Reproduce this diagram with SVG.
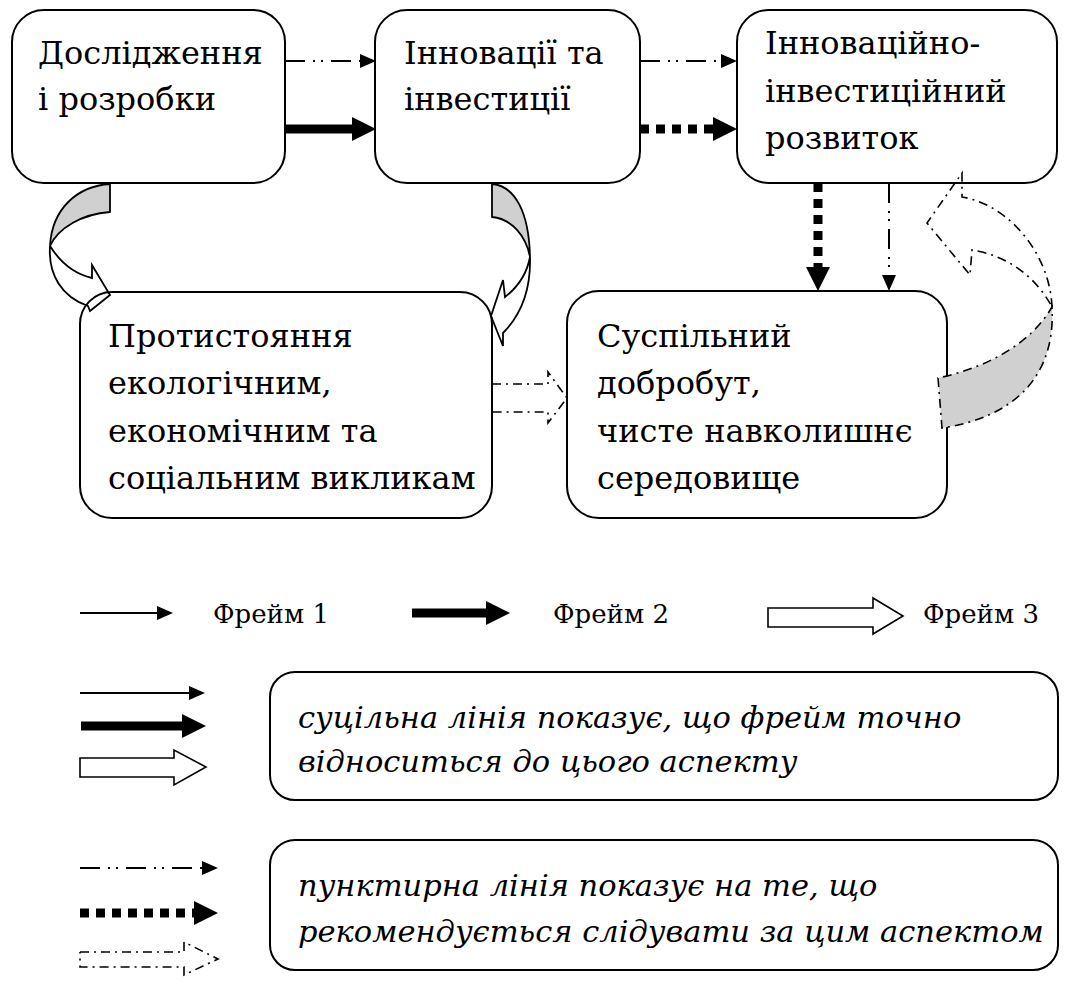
<svg xmlns="http://www.w3.org/2000/svg" width="1067" height="992" viewBox="0 0 1067 992">
<style>
.box{fill:#fff;stroke:#000;stroke-width:2}
text{fill:#000;font-family:"DejaVu Serif",serif}
.t{font-size:32px}
.it{font-size:30.5px;font-style:italic}
.lg{font-size:26px}
.thin{stroke:#000;stroke-width:2;fill:none}
.thick{stroke:#000;stroke-width:9;fill:none}
.ddot{stroke:#000;stroke-width:2;fill:none;stroke-dasharray:20 8 2 6 2 8}
.dots{stroke:#000;stroke-width:9;fill:none;stroke-dasharray:9 7}
.hol{stroke:#000;stroke-width:1.6;fill:#fff}
.holD{stroke:#000;stroke-width:1.6;fill:none;stroke-dasharray:9 5 2 5}
.cur{stroke:#000;stroke-width:1.8;fill:none}
.curG{stroke:#000;stroke-width:1.8;fill:#d0d0d0}
.curD{stroke:#000;stroke-width:1.6;fill:none;stroke-dasharray:9 5 2 5}
.curDG{stroke:#000;stroke-width:1.6;fill:#d0d0d0;stroke-dasharray:9 5 2 5}
</style>
<defs>
<marker id="hThin" markerUnits="userSpaceOnUse" markerWidth="16" markerHeight="14" refX="0" refY="7" orient="auto" overflow="visible"><path d="M0,0 L16,7 L0,14 Z" fill="#000"/></marker>
<marker id="hThick" markerUnits="userSpaceOnUse" markerWidth="24" markerHeight="24" refX="0" refY="12" orient="auto" overflow="visible"><path d="M0,0 L24,12 L0,24 Z" fill="#000"/></marker>
</defs>
<g id="node-research">
<rect class="box" x="12" y="10" width="273" height="173" rx="32"/>
<text class="t" x="38" y="64">Дослідження</text>
<text class="t" x="38" y="110">і розробки</text>
</g>
<g id="node-innovations">
<rect class="box" x="375" y="10" width="265" height="173" rx="32"/>
<text class="t" x="404" y="64">Інновації та</text>
<text class="t" x="404" y="110">інвестиції</text>
</g>
<g id="node-development">
<rect class="box" x="737" y="10" width="320" height="173" rx="32"/>
<text class="t" x="765" y="54">Інноваційно-</text>
<text class="t" x="765" y="102">інвестиційний</text>
<text class="t" x="765" y="149">розвиток</text>
</g>
<g id="node-challenges">
<rect class="box" x="80" y="292" width="412" height="226" rx="32"/>
<text class="t" x="108" y="347">Протистояння</text>
<text class="t" x="108" y="394">екологічним,</text>
<text class="t" x="108" y="442">економічним та</text>
<text class="t" x="108" y="489">соціальним викликам</text>
</g>
<g id="node-welfare">
<rect class="box" x="567" y="291" width="380" height="227" rx="32"/>
<text class="t" x="597" y="347">Суспільний</text>
<text class="t" x="597" y="394">добробут,</text>
<text class="t" x="597" y="442">чисте навколишнє</text>
<text class="t" x="597" y="489">середовище</text>
</g>

<g id="connectors">
<line class="ddot" x1="285" y1="61" x2="360" y2="61" marker-end="url(#hThin)"/>
<line class="thick" x1="285" y1="129" x2="352" y2="129" marker-end="url(#hThick)"/>
<line class="ddot" x1="640" y1="61" x2="721" y2="61" marker-end="url(#hThin)"/>
<line class="dots" x1="640" y1="129" x2="713" y2="129" marker-end="url(#hThick)"/>
<line class="dots" x1="818" y1="183" x2="818" y2="267" marker-end="url(#hThick)"/>
<line class="ddot" x1="889" y1="183" x2="889" y2="275" marker-end="url(#hThin)"/>
<polyline class="holD" points="492,384 548,384 548,372 567,398 548,423 548,412 492,412"/>
<path class="curG" d="M110,184 C78,186 52,208 50,246 C58,228 82,214 110,212 Z"/>
<path class="cur" d="M50,246 C48,275 62,297 88,306 L90,311 L110,295 L92,265 L92,278 C75,274 60,262 50,246"/>
<path class="curG" d="M492,184 C515,186 529,212 530,257 C526,236 512,219 492,217 Z"/>
<path class="cur" d="M530,257 C531,292 520,316 503,333 L503,346 L491,316 L503,280 L505,297 C518,287 527,273 530,257"/>
<path class="curDG" d="M938,378 L942,428 C1010,418 1056,380 1052,307 C1030,345 985,368 938,378 Z"/>
<path class="curD" d="M1052,307 C1050,255 1010,205 962,197 L962,173 L927,223 L970,275 L972,250 C1005,255 1035,275 1052,307"/>
</g>

<g id="legend-frames">
<line class="thin" x1="80" y1="613" x2="157" y2="613" marker-end="url(#hThin)"/>
<text class="lg" x="213" y="623">Фрейм 1</text>
<line class="thick" x1="412" y1="613" x2="486" y2="613" marker-end="url(#hThick)"/>
<text class="lg" x="553" y="623">Фрейм 2</text>
<polygon class="hol" points="768,608 873,608 873,598 903,616 873,634 873,627 768,627"/>
<text class="lg" x="923" y="623">Фрейм 3</text>
</g>

<g id="legend-solid">
<line class="thin" x1="80" y1="693" x2="189" y2="693" marker-end="url(#hThin)"/>
<line class="thick" x1="81" y1="726" x2="182" y2="726" marker-end="url(#hThick)"/>
<polygon class="hol" points="80,758 174,758 174,750 206,767 174,785 174,777 80,777"/>
<rect class="box" x="270" y="672" width="788" height="128" rx="25"/>
<text class="it" x="298" y="728">суцільна лінія показує, що фрейм точно</text>
<text class="it" x="298" y="772">відноситься до цього аспекту</text>
</g>

<g id="legend-dashed">
<line class="ddot" x1="80" y1="868" x2="202" y2="868" marker-end="url(#hThin)"/>
<line class="dots" x1="80" y1="913" x2="194" y2="913" marker-end="url(#hThick)"/>
<polyline class="holD" points="80,952 184,952 184,942 218,959 184,975 184,967 80,967 80,952"/>
<rect class="box" x="270" y="840" width="788" height="130" rx="25"/>
<text class="it" x="298" y="896">пунктирна лінія показує на те, що</text>
<text class="it" x="298" y="942">рекомендується слідувати за цим аспектом</text>
</g>
</svg>
